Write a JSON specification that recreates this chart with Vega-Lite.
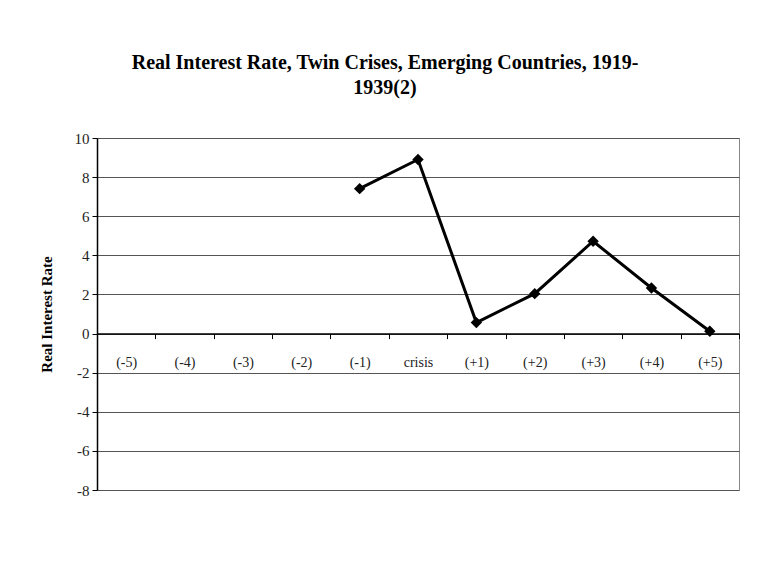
{
  "$schema": "https://vega.github.io/schema/vega-lite/v6.json",
  "width": 642,
  "height": 352,
  "autosize": {"type": "none"},
  "padding": {"left": 97, "top": 138, "right": 28, "bottom": 86},
  "background": "white",
  "title": {
    "text": ["Real Interest Rate, Twin Crises, Emerging Countries, 1919-", "1939(2)"],
    "font": "Liberation Serif",
    "fontSize": 20,
    "fontWeight": "bold",
    "color": "black",
    "anchor": "middle",
    "dx": -33,
    "offset": 33,
    "lineHeight": 25
  },
  "config": {
    "view": {"stroke": "#888888", "strokeWidth": 1},
    "font": "Liberation Serif"
  },
  "data": {
    "values": [
      {"period": "(-1)", "rate": 7.41},
      {"period": "crisis", "rate": 8.9},
      {"period": "(+1)", "rate": 0.56},
      {"period": "(+2)", "rate": 2.04},
      {"period": "(+3)", "rate": 4.72},
      {"period": "(+4)", "rate": 2.33},
      {"period": "(+5)", "rate": 0.12}
    ]
  },
  "encoding": {
    "x": {
      "field": "period",
      "type": "nominal",
      "bandPosition": 0.5,
      "sort": null,
      "scale": {
        "type": "band",
        "domain": ["(-5)", "(-4)", "(-3)", "(-2)", "(-1)", "crisis", "(+1)", "(+2)", "(+3)", "(+4)", "(+5)"],
        "paddingInner": 0,
        "paddingOuter": 0
      },
      "axis": {
        "title": null,
        "labelAngle": 0,
        "offset": -156.4,
        "grid": false,
        "domainColor": "black",
        "domainWidth": 1.5,
        "tickColor": "black",
        "tickSize": 5,
        "tickBand": "extent",
        "labelFont": "Liberation Serif",
        "labelFontSize": 14,
        "labelColor": "#222222",
        "labelPadding": 17
      }
    },
    "y": {
      "field": "rate",
      "type": "quantitative",
      "scale": {"domain": [-8, 10], "nice": false, "zero": false},
      "axis": {
        "title": "Real Interest Rate",
        "titleFont": "Liberation Serif",
        "titleFontSize": 15,
        "titleFontWeight": "bold",
        "titleColor": "black",
        "titlePadding": 20,
        "values": [-8, -6, -4, -2, 0, 2, 4, 6, 8, 10],
        "labelExpr": "'' + datum.value",
        "grid": true,
        "gridColor": "#555555",
        "gridWidth": 1,
        "domainColor": "black",
        "domainWidth": 1.5,
        "tickColor": "black",
        "tickSize": 5,
        "labelFont": "Liberation Serif",
        "labelFontSize": 15,
        "labelColor": "#222222",
        "labelPadding": 3
      }
    }
  },
  "layer": [
    {"mark": {"type": "line", "color": "black", "strokeWidth": 3}},
    {"mark": {"type": "point", "shape": "diamond", "filled": true, "color": "black", "opacity": 1, "size": 130}}
  ]
}
